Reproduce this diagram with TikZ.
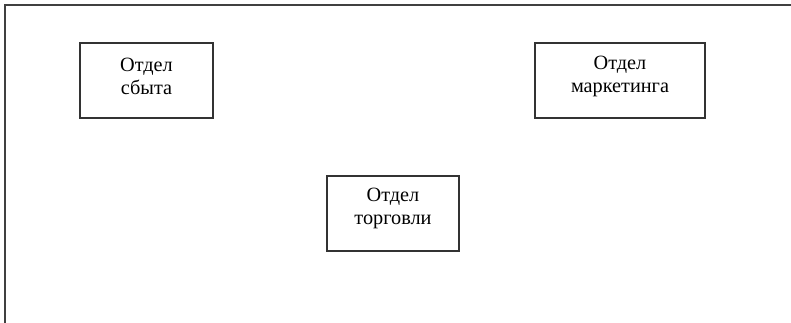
\documentclass[tikz,border=0pt]{standalone}
\usepackage{fontspec}
\setmainfont{Liberation Serif}
\begin{document}
\begin{tikzpicture}[x=0.75pt,y=-0.75pt,
  dept/.style={draw=black!80,line width=1.1pt,fill=white,inner sep=0pt},
  lbl/.style={align=center,font=\fontsize{15.2pt}{17.5pt}\selectfont,inner sep=0pt,text=black}]
\useasboundingbox (0,0) rectangle (791,323);
\draw[black!75,line width=1.5pt] (5,340) -- (5,5) -- (810,5);
\node[dept,minimum width=99.75pt,minimum height=56.25pt] (sbyt) at (146.5,80.5) {};
\node[lbl] (sbytT) at (146.5,76.5) {Отдел\\сбыта};
\node[dept,minimum width=127.5pt,minimum height=56.25pt] (mark) at (620,80.5) {};
\node[lbl] (markT) at (620,76.5) {Отдел\\маркетинга};
\node[dept,minimum width=99pt,minimum height=56.25pt] (torg) at (393,213.5) {};
\node[lbl] (torgT) at (393,208.5) {Отдел\\торговли};
\end{tikzpicture}
\end{document}
